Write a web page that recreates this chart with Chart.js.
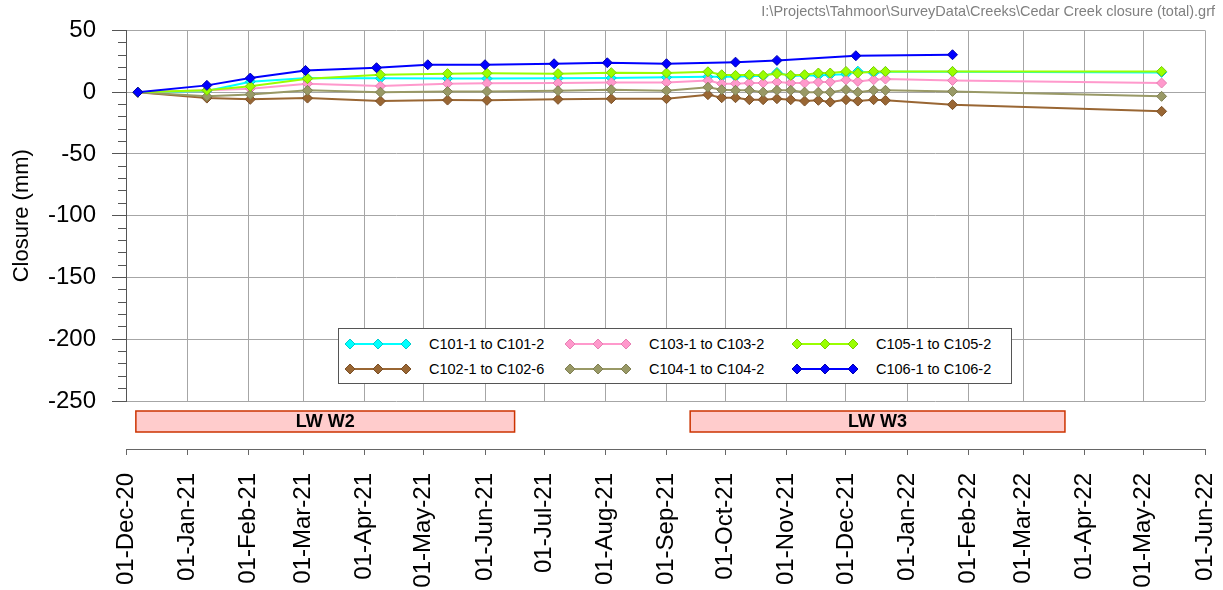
<!DOCTYPE html>
<html lang="en">
<head>
<meta charset="utf-8">
<script src="https://cdn.jsdelivr.net/npm/chart.js@4.4.0/dist/chart.umd.min.js"></script>
<title>Cedar Creek closure (total)</title>
<style>
  body { margin: 0; background: #fff; font-family: "Liberation Sans", Arial, sans-serif; }
  #wrap { position: relative; width: 1223px; height: 590px; }
  #path { position: absolute; right: 8px; top: 3px; font-size: 14.5px; color: #808080; white-space: nowrap; }
  #legend { position: absolute; left: 338px; top: 328px; width: 674px; height: 56px; border: 1px solid #555; background: #fff; box-sizing: border-box; }
  .item { position: absolute; display: flex; align-items: center; font-size: 14.5px; color: #000; white-space: nowrap; }
  .item svg { margin-right: 18px; }
</style>
</head>
<body>
<div id="wrap">
  <canvas id="chart" width="1223" height="590"></canvas>
  <div id="path">I:\Projects\Tahmoor\SurveyData\Creeks\Cedar Creek closure (total).grf</div>
  <div id="legend"></div>
</div>
<script>
// survey dates for C101..C105
const dates = ['2020-12-07','2021-01-11','2021-02-02','2021-03-03','2021-04-09','2021-05-13','2021-06-02',
  '2021-07-08','2021-08-04','2021-09-01','2021-09-22','2021-09-29','2021-10-06','2021-10-13','2021-10-20',
  '2021-10-27','2021-11-03','2021-11-10','2021-11-17','2021-11-23','2021-12-01','2021-12-07','2021-12-15',
  '2021-12-21','2022-01-24','2022-05-10'];
// C106 was read on its own dates
const datesC106 = ['2020-12-07','2021-01-11','2021-02-02','2021-03-02','2021-04-07','2021-05-03','2021-06-01',
  '2021-07-06','2021-08-02','2021-09-01','2021-10-06','2021-10-27','2021-12-06','2022-01-24'];

const c101 = [0, 1, 8.5, 11.4, 11.2, 11, 11, 11.2, 11.5, 12, 12.5, 12.5, 12.5, 13, 13, 16, 13, 13.5, 13.5, 14, 14.5, 17, 15.5, 16.5, 16.5, 16];
const c102 = [0, -4.8, -5.8, -4.8, -7.2, -6.4, -6.6, -5.8, -5.3, -5.3, -2, -4.5, -4.5, -6.1, -6.1, -5.3, -6.1, -7.2, -6.6, -8, -6.1, -7.2, -6.1, -6.6, -10.1, -15.5];
const c103 = [0, 1.5, 2.8, 6.9, 4.9, 6.9, 7.2, 7.4, 7.9, 7.9, 9.5, 6.9, 6.9, 7.4, 7.4, 8.2, 7.4, 7.4, 8.2, 8.2, 10, 8.7, 10, 10.6, 9.5, 7.4];
const c104 = [0, -3.4, -1.8, 1.5, 0, 0.5, 0.6, 1.2, 2, 1.2, 4, 2, 1.5, 1.5, 0, 1.5, 1.5, 0, 0, 0, 2, 0, 1.5, 1.5, 0.6, -3.4];
const c105 = [0, 1.5, 4.7, 10.9, 14.1, 15, 15.3, 15, 15.8, 15.5, 16.5, 14.1, 13.6, 14.1, 13.6, 15, 13.6, 14.1, 15.5, 15.5, 16.8, 15.5, 16.8, 16.8, 16.8, 16.8];
const c106 = [0, 5.5, 11.4, 17.6, 19.8, 22.2, 22.2, 23, 23.8, 23, 24.3, 25.7, 29.5, 30.3];

const seriesNames = ['C101-1 to C101-2','C102-1 to C102-6','C103-1 to C103-2','C104-1 to C104-2','C105-1 to C105-2','C106-1 to C106-2'];
const seriesDates = [dates, dates, dates, dates, dates, datesC106];
const seriesValues = [c101, c102, c103, c104, c105, c106];
const seriesColors = ['#00FFFF','#996633','#FF99CC','#999966','#99FF00','#0000FF'];
const markerEdges = ['#00CCCC','#7A4F26','#E680B3','#7F7F52','#7ACC00','#0000B0'];

// longwall extraction periods
const lwLabels = ['LW W2','LW W3'];
const lwStart = ['2020-12-06','2021-09-13'];
const lwEnd = ['2021-06-16','2022-03-22'];

const yTicks = { min: -250, max: 50, major: 50, minor: 10 };
const xMin = Date.UTC(2020, 11, 1), xMax = Date.UTC(2022, 5, 1);

const FONT = '"Liberation Sans", Arial, sans-serif';
const MON = ['Jan','Feb','Mar','Apr','May','Jun','Jul','Aug','Sep','Oct','Nov','Dec'];

// month ticks
const monthTicks = [];
for (let y = 2020, m = 11; Date.UTC(y, m, 1) <= xMax; m++) {
  if (m > 11) { m = 0; y++; }
  monthTicks.push(Date.UTC(y, m, 1));
}
function fmtDate(v) {
  const d = new Date(v);
  return String(d.getUTCDate()).padStart(2, '0') + '-' + MON[d.getUTCMonth()] + '-' + String(d.getUTCFullYear()).slice(2);
}
const setMonthTicks = s => { s.ticks = monthTicks.map(v => ({ value: v })); };

const datasets = seriesNames.map((name, i) => ({
  label: name,
  data: seriesDates[i].map((d, j) => ({ x: Date.parse(d), y: seriesValues[i][j] })),
  borderColor: seriesColors[i],
  backgroundColor: seriesColors[i],
  pointBorderColor: markerEdges[i],
  pointBackgroundColor: seriesColors[i],
  borderWidth: 2,
  pointStyle: 'rectRot',
  pointRadius: 5,
  pointBorderWidth: 1,
  order: seriesNames.length - i
}));

// LW panels drawn in the gap under the plot
const lwPlugin = {
  id: 'lwPanels',
  afterDraw(chart) {
    const xs = chart.scales.x, c = chart.ctx;
    const top = xs.top + 10, h = 21;
    lwLabels.forEach((lab, i) => {
      const x0 = xs.getPixelForValue(Date.parse(lwStart[i]));
      const x1 = xs.getPixelForValue(Date.parse(lwEnd[i]));
      c.save();
      c.fillStyle = '#FFCCCC';
      c.fillRect(x0, top, x1 - x0, h);
      c.strokeStyle = '#CC3300';
      c.lineWidth = 1.5;
      c.strokeRect(x0, top, x1 - x0, h);
      c.fillStyle = '#000';
      c.font = 'bold 18px ' + FONT;
      c.textAlign = 'center';
      c.textBaseline = 'middle';
      c.fillText(lab, (x0 + x1) / 2, top + h / 2 + 1);
      c.restore();
    });
  }
};

new Chart(document.getElementById('chart'), {
  type: 'line',
  data: { datasets: datasets },
  plugins: [lwPlugin],
  options: {
    responsive: false,
    animation: false,
    devicePixelRatio: 1,
    layout: { padding: { top: 30, right: 18, left: 0, bottom: 0 } },
    plugins: { legend: { display: false }, tooltip: { enabled: false } },
    scales: {
      x: {
        type: 'linear', position: 'bottom', min: xMin, max: xMax, weight: 0,
        afterBuildTicks: setMonthTicks,
        afterFit: s => { s.height = 48; s.paddingLeft = 0; s.paddingRight = 0; },
        ticks: { display: false },
        grid: { color: '#a6a6a6', drawTicks: false },
        border: { display: false }
      },
      xLab: {
        type: 'linear', position: 'bottom', min: xMin, max: xMax, weight: 1,
        afterBuildTicks: setMonthTicks,
        afterFit: s => { s.height = 141; s.paddingLeft = 0; s.paddingRight = 0; },
        ticks: { minRotation: 90, maxRotation: 90, autoSkip: false, padding: 18, color: '#000',
                 font: { size: 24, family: FONT }, callback: v => fmtDate(v) },
        grid: { drawOnChartArea: false, tickLength: 6, color: '#666' },
        border: { display: true, color: '#666' }
      },
      y: {
        position: 'left', min: yTicks.min, max: yTicks.max, weight: 1,
        afterFit: s => { s.width = 126; },
        ticks: { stepSize: yTicks.major, padding: 16, color: '#000', font: { size: 24, family: FONT } },
        grid: { color: '#a6a6a6', tickColor: '#555', tickLength: 14 },
        border: { color: '#555' },
        title: { display: true, text: 'Closure (mm)', color: '#000', font: { size: 22, family: FONT }, padding: { top: 9, bottom: 0 } }
      },
      yMinor: {
        position: 'left', min: yTicks.min, max: yTicks.max, weight: 0,
        afterFit: s => { s.width = 0; },
        ticks: { stepSize: yTicks.minor, display: false },
        grid: { drawOnChartArea: false, tickLength: 8, tickColor: '#555' },
        border: { display: false }
      }
    }
  }
});

// legend: 3 columns x 2 rows, filled column by column
const legend = document.getElementById('legend');
const colLeft = [6, 226, 453], rowTop = [7, 32];
seriesNames.forEach((name, i) => {
  const col = Math.floor(i / 2), row = i % 2;
  const el = document.createElement('div');
  el.className = 'item';
  el.style.left = colLeft[col] + 'px';
  el.style.top = rowTop[row] + 'px';
  const dia = cx => `<polygon points="${cx - 5},7 ${cx},2 ${cx + 5},7 ${cx},12" fill="${seriesColors[i]}" stroke="${markerEdges[i]}" stroke-width="1"/>`;
  el.innerHTML = `<svg width="66" height="14"><line x1="5" y1="7" x2="61" y2="7" stroke="${seriesColors[i]}" stroke-width="2"/>${dia(5)}${dia(33)}${dia(61)}</svg><span>${name}</span>`;
  legend.appendChild(el);
});
</script>
</body>
</html>
